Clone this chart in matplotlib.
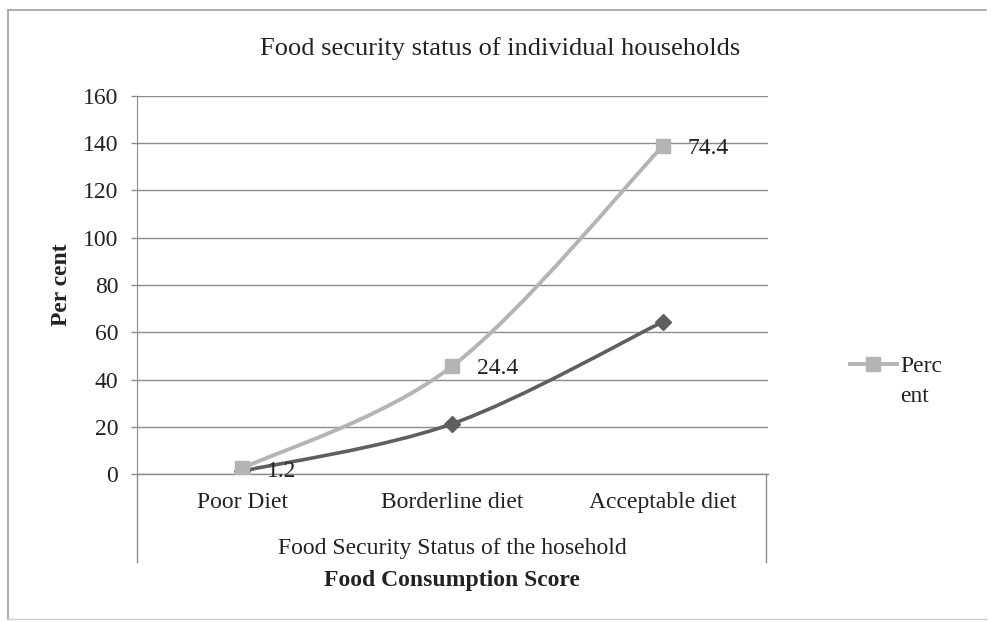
import numpy as np
import matplotlib
matplotlib.use("Agg")
import matplotlib.pyplot as plt
from matplotlib.path import Path
from matplotlib.patches import PathPatch
from matplotlib.lines import Line2D

plt.rcParams['font.family'] = ['Liberation Serif', 'DejaVu Serif']

# data
categories = ['Poor Diet', 'Borderline diet', 'Acceptable diet']
dark_values = [1.2, 21.3, 64.4]        # lower series (unlabelled)
percent_values = [1.2, 24.4, 74.4]     # "Percent" series, stacked on the lower one
yticks = [0, 20, 40, 60, 80, 100, 120, 140, 160]

DARK = '#5f5f5f'
LIGHT = '#b4b4b4'
GRID = '#8c8c8c'
TXT = '#222222'
FS = 17


def smooth_path(xs, ys):
    """Excel-like smoothed line: cubic bezier through the points."""
    pts = np.column_stack([xs, ys]).astype(float)
    ext = np.vstack([pts[0], pts, pts[-1]])
    verts = [tuple(pts[0])]
    codes = [Path.MOVETO]
    for i in range(len(pts) - 1):
        p0, p1, p2, p3 = ext[i], ext[i + 1], ext[i + 2], ext[i + 3]
        c1 = p1 + (p2 - p0) / 6.0
        c2 = p2 - (p3 - p1) / 6.0
        verts += [tuple(c1), tuple(c2), tuple(p2)]
        codes += [Path.CURVE4] * 3
    return Path(verts, codes)


fig = plt.figure(figsize=(9.91, 6.22), dpi=100)
ax = fig.add_axes([0.1382, 0.2379, 0.6367, 0.6078])

x = np.arange(len(categories))
stacked = np.array(dark_values) + np.array(percent_values)

ax.add_patch(PathPatch(smooth_path(x, dark_values), fill=False, edgecolor=DARK, lw=2.6, zorder=3))
ax.add_patch(PathPatch(smooth_path(x, stacked), fill=False, edgecolor=LIGHT, lw=2.8, zorder=3))
ax.plot(x, dark_values, ls='none', marker='D', ms=8, color=DARK, zorder=4)
ax.plot(x, stacked, ls='none', marker='s', ms=10, color=LIGHT, zorder=4)

for xi, yi, v in zip(x, stacked, percent_values):
    ax.annotate(f'{v}', (xi, yi), xytext=(18, -2), textcoords='offset points',
                ha='left', va='center', fontsize=FS, color=TXT, zorder=5)

ax.set_xlim(-0.5, 2.5)
ax.set_ylim(0, 160)
ax.set_yticks(yticks)
ax.set_xticks(x)
ax.set_xticklabels(categories)
ax.tick_params(axis='y', length=4.5, width=1, color=GRID, pad=9, labelsize=FS, labelcolor=TXT)
ax.tick_params(axis='x', length=0, pad=13, labelsize=FS, labelcolor=TXT)
ax.grid(axis='y', color=GRID, lw=1)
ax.axhline(0, color=GRID, lw=1, clip_on=False, zorder=1)
ax.set_axisbelow(True)
for s in ['top', 'right', 'bottom']:
    ax.spines[s].set_visible(False)
ax.spines['left'].set_color(GRID)

ax.set_ylabel('Per cent', fontsize=FS, fontweight='bold', labelpad=8, color=TXT)

# category axis box below the plot
fig.add_artist(Line2D([0.1382, 0.1382], [0.0965, 0.2379], color=GRID, lw=1))
fig.add_artist(Line2D([0.773, 0.773], [0.0965, 0.2379], color=GRID, lw=1))

fig.text(0.456, 0.118, 'Food Security Status of the hosehold', ha='center', va='center',
         fontsize=FS, color=TXT)
fig.text(0.456, 0.067, 'Food Consumption Score', ha='center', va='center',
         fontsize=FS, fontweight='bold', color=TXT)
fig.text(0.505, 0.922, 'Food security status of individual households', ha='center', va='center',
         fontsize=19, color=TXT)

# legend, only the Percent series; label wraps onto a second line like the original
handles = [Line2D([], [], color=LIGHT, lw=2.8, marker='s', ms=10),
           Line2D([], [], color='none')]
leg = ax.legend(handles, ['Perc', 'ent'], loc='center left', bbox_to_anchor=(1.111, 0.245),
                frameon=False, borderpad=0, fontsize=FS, handlelength=2.0,
                handletextpad=0.15, labelspacing=0.35)
for t in leg.get_texts():
    t.set_color(TXT)

# outer chart frame
fig.add_artist(Line2D([0.008, 0.008], [0.005, 0.984], color='#a0a0a0', lw=1.2))
fig.add_artist(Line2D([0.008, 0.995], [0.984, 0.984], color='#a0a0a0', lw=1.2))
fig.add_artist(Line2D([0.008, 0.995], [0.005, 0.005], color='#d0d0d0', lw=1))

fig.savefig('out.png', dpi=100)
